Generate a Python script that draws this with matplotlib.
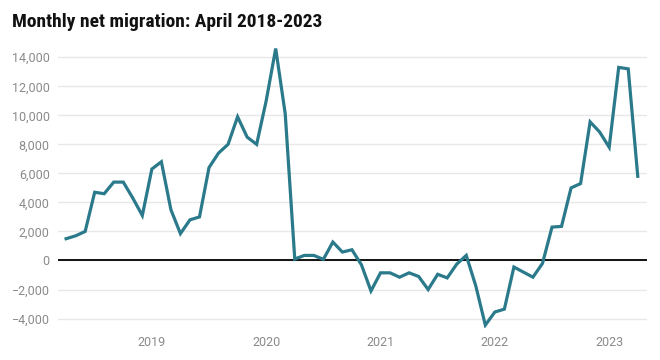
import matplotlib
matplotlib.use("Agg")
import matplotlib.pyplot as plt
from matplotlib.ticker import FuncFormatter

# Monthly net migration, April 2018 .. April 2023
months = [
    "2018-04", "2018-05", "2018-06", "2018-07", "2018-08", "2018-09", "2018-10", "2018-11", "2018-12",
    "2019-01", "2019-02", "2019-03", "2019-04", "2019-05", "2019-06", "2019-07", "2019-08", "2019-09",
    "2019-10", "2019-11", "2019-12",
    "2020-01", "2020-02", "2020-03", "2020-04", "2020-05", "2020-06", "2020-07", "2020-08", "2020-09",
    "2020-10", "2020-11", "2020-12",
    "2021-01", "2021-02", "2021-03", "2021-04", "2021-05", "2021-06", "2021-07", "2021-08", "2021-09",
    "2021-10", "2021-11", "2021-12",
    "2022-01", "2022-02", "2022-03", "2022-04", "2022-05", "2022-06", "2022-07", "2022-08", "2022-09",
    "2022-10", "2022-11", "2022-12",
    "2023-01", "2023-02", "2023-03", "2023-04",
]
net_migration = [
    1500, 1700, 2000, 4700, 4600, 5400, 5400, 4300, 3100,
    6300, 6800, 3500, 1850, 2800, 3000, 6400, 7400, 8000,
    9900, 8500, 8000,
    11000, 14600, 10100, 100, 350, 350, 80, 1270, 580,
    740, -300, -2100,
    -850, -850, -1150, -850, -1100, -2000, -950, -1200, -250,
    350, -1750, -4450,
    -3550, -3350, -450, -800, -1150, -200, 2300, 2350, 5000,
    5300, 9550, 8850,
    7800, 13300, 13200, 5800,
]
year_ticks = ["2019-01", "2020-01", "2021-01", "2022-01", "2023-01"]
year_labels = ["2019", "2020", "2021", "2022", "2023"]
y_ticks = [-4000, -2000, 0, 2000, 4000, 6000, 8000, 10000, 12000, 14000]

plt.rcParams['font.family'] = ['Roboto', 'DejaVu Sans']

fig = plt.figure(figsize=(6.6, 3.6), dpi=100)
ax = fig.add_axes([58/660, 32/360, 589/660, 286/360])

x = list(range(len(months)))
ax.plot(x, net_migration, color="#2b7a8b", lw=2.3, solid_joinstyle="miter", zorder=3)
ax.axhline(0, color="black", lw=1.3, zorder=2)

ax.set_xlim(-0.85, 60.97)
ax.set_ylim(-4650, 15050)
ax.set_yticks(y_ticks)
ax.yaxis.set_major_formatter(FuncFormatter(lambda v, p: f"{int(v):,}".replace("-", "\u2212")))
ax.set_xticks([months.index(m) for m in year_ticks])
ax.set_xticklabels(year_labels)
ax.grid(axis="y", color="#e8e8e8", lw=1, zorder=0)
ax.tick_params(length=0, labelsize=9, colors="#8a8a8a", pad=6)
for s in ax.spines.values():
    s.set_visible(False)

title = fig.text(12/660, 1 - 27/360, "Monthly net migration: April 2018-2023",
                 fontsize=17, fontweight="bold", color="#111111", fontstretch="condensed",
                 family=["Roboto Condensed", "DejaVu Sans Condensed", "Liberation Sans Narrow",
                         "Roboto", "DejaVu Sans"], va="baseline")

# shrink the title to the reference width (about 311 px) if no condensed face exists
fig.canvas.draw()
w = title.get_window_extent().width
target = 311.0
if w > target * 1.04:
    title.set_fontsize(17 * target / w)

fig.savefig("out.png", dpi=100, facecolor="white")
